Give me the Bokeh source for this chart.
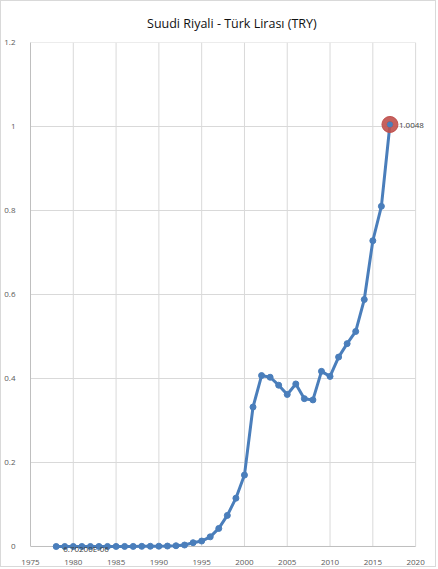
from bokeh.plotting import figure
from bokeh.models import ColumnDataSource, FixedTicker, Label
from bokeh.embed import file_html
from bokeh.resources import INLINE

years = list(range(1978, 2018))
rates = [6.702e-06, 9e-06, 2.1e-05, 3.2e-05, 4.3e-05, 6.2e-05, 0.0001, 0.000144,
         0.00018, 0.00023, 0.00038, 0.00057, 0.0007, 0.0011, 0.0018, 0.0035,
         0.009, 0.013, 0.023, 0.043, 0.074, 0.115, 0.170, 0.332, 0.407, 0.403,
         0.384, 0.362, 0.387, 0.352, 0.349, 0.417, 0.405, 0.451, 0.483, 0.512,
         0.588, 0.728, 0.810, 1.0048]
min_label = "6.70200E-06"
max_label = "1.0048"
title_text = "Suudi  Riyali - Türk Lirası (TRY)"
x_ticks = [1975, 1980, 1985, 1990, 1995, 2000, 2005, 2010, 2015, 2020]
y_ticks = [0, 0.2, 0.4, 0.6, 0.8, 1.0, 1.2]

blue = "#4A7EBB"
grid_gray = "#D9D9D9"
axis_gray = "#BFBFBF"
font = "Open Sans"

p = figure(width=436, height=567, output_backend="svg", toolbar_location=None,
           x_range=(1975, 2022.44), y_range=(-0.0143, 1.2),
           min_border_left=26, min_border_right=1, min_border_top=41,
           min_border_bottom=16, title=title_text)
p.styles = {"border": "1px solid #D9D9D9"}
p.title.align = "center"
p.title.text_font = font
p.title.text_font_size = "12.5px"
p.title.text_font_style = "normal"
p.title.text_color = "#111111"
p.title.standoff = 21

p.outline_line_color = None
p.xgrid.visible = False
p.ygrid.visible = False
for ax in (p.xaxis[0], p.yaxis[0]):
    ax.major_tick_line_color = None
    ax.minor_tick_line_color = None
    ax.major_label_text_font = font
    ax.major_label_text_font_size = "8px"
    ax.major_label_text_color = "#595959"
p.xaxis[0].ticker = FixedTicker(ticks=x_ticks)
p.xaxis[0].axis_line_color = None
p.xaxis[0].major_label_standoff = 1
p.yaxis[0].ticker = FixedTicker(ticks=y_ticks)
p.yaxis[0].bounds = (y_ticks[0], y_ticks[-1])
p.yaxis[0].axis_line_color = axis_gray
p.yaxis[0].major_label_standoff = 9
p.yaxis[0].major_label_overrides = {0: "0", 1: "1", 1.2: "1.2"}

# grid lines limited to the data area (1975-2020, 0-1.2)
p.segment(x0=x_ticks[1:], y0=[y_ticks[0]] * (len(x_ticks) - 1),
          x1=x_ticks[1:], y1=[y_ticks[-1]] * (len(x_ticks) - 1),
          line_color=grid_gray, line_width=1)
p.segment(x0=[x_ticks[0]] * (len(y_ticks) - 1), y0=y_ticks[1:],
          x1=[x_ticks[-1]] * (len(y_ticks) - 1), y1=y_ticks[1:],
          line_color=grid_gray, line_width=1)
p.segment(x0=[x_ticks[0]], y0=[y_ticks[0]], x1=[x_ticks[-1]], y1=[y_ticks[0]],
          line_color=axis_gray, line_width=1)

src = ColumnDataSource(dict(x=years, y=rates))

p.add_layout(Label(x=years[0], y=rates[0], text=min_label, x_offset=7, y_offset=-2,
                   text_baseline="middle", text_font=font, text_font_size="8px",
                   text_color="#404040"))

p.line("x", "y", source=src, line_color=blue, line_width=3)
p.scatter("x", "y", source=src, size=6, fill_color=blue, line_color=blue)

p.scatter([years[-1]], [rates[-1]], size=16, fill_color="#C0504D", line_color="#C0504D",
          fill_alpha=0.9)
p.scatter([years[-1]], [rates[-1]], size=5, fill_color=blue, line_color=blue)
p.add_layout(Label(x=years[-1], y=rates[-1], text=max_label, x_offset=9, y_offset=-1,
                   text_baseline="middle", text_font=font, text_font_size="8px",
                   text_color="#404040"))

open("out.html", "w").write(file_html(p, INLINE))
